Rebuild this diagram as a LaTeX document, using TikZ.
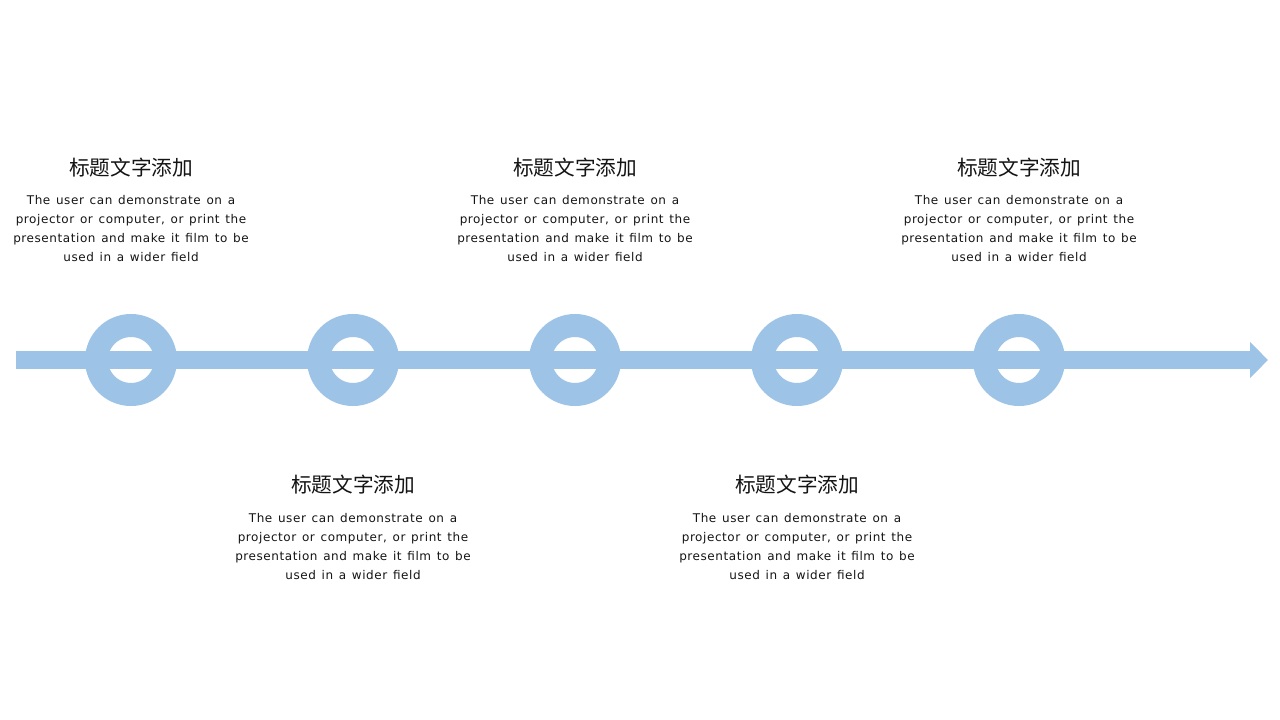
\documentclass[tikz,border=0pt]{standalone}
\usepackage{fontspec}
\setmainfont{DejaVu Sans}[LetterSpace=4.8,WordSpace=1.3]
\newfontfamily\cjk{Noto Sans CJK SC}
\usetikzlibrary{arrows.meta}
\definecolor{ringblue}{RGB}{157,195,230}
\definecolor{txt}{RGB}{20,20,20}
\tikzset{
  ring/.style={circle, draw=ringblue, line width=17.25pt, minimum size=51.75pt, inner sep=0pt},
  ttl/.style={font=\cjk\fontsize{15.5pt}{18pt}\selectfont, text=txt, inner sep=0pt},
  body/.style={font=\fontsize{9pt}{14.25pt}\selectfont, text=txt, align=center, inner sep=0pt}
}
\newcommand{\bodytext}{The user can demonstrate on a\\projector or computer, or print the\\presentation and make it film to be\\used in a wider field}
\begin{document}
\begin{tikzpicture}[x=0.75pt,y=-0.75pt]
\useasboundingbox (0,0) rectangle (1280,720);
\coordinate (s) at (16,360);
\coordinate (e) at (1268,360);
\draw[ringblue, line width=13.5pt, -{Triangle[length=13.5pt,width=26.25pt]}] (s) -- (e);
\foreach \i/\x in {1/131,2/353,3/575,4/797,5/1019}{
  \node[ring] (r\i) at (\x,360) {};
}
% top groups
\foreach \i/\x in {1/131,3/575,5/1019}{
  \node[ttl] (t\i) at (\x,168) {标题文字添加};
  \node[body] (b\i) at (\x,229) {\bodytext};
}
% bottom groups
\foreach \i/\x in {2/353,4/797}{
  \node[ttl] (t\i) at (\x,485) {标题文字添加};
  \node[body] (b\i) at (\x,547) {\bodytext};
}
\end{tikzpicture}
\end{document}
